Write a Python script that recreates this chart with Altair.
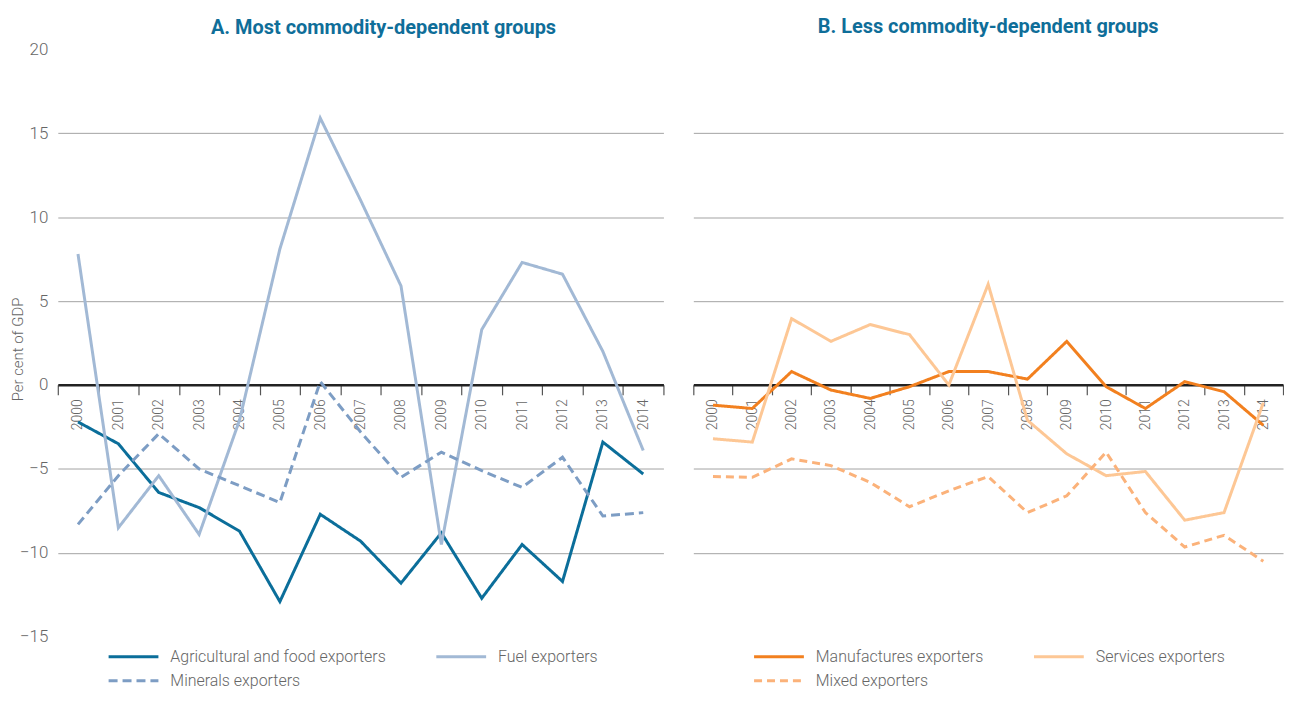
import altair as alt
import pandas as pd

years = [str(y) for y in range(2000, 2015)]

# Panel A
agri = [-2.2, -3.5, -6.4, -7.3, -8.7, -12.9, -7.7, -9.3, -11.8, -8.8, -12.7, -9.5, -11.7, -3.4, -5.3]
fuel = [7.8, -8.5, -5.4, -8.9, -2.1, 8.1, 15.9, 11.0, 5.9, -9.5, 3.3, 7.3, 6.6, 2.0, -3.9]
minerals = [-8.3, -5.4, -2.9, -5.0, -6.0, -7.0, 0.2, -2.8, -5.5, -4.0, -5.1, -6.1, -4.3, -7.8, -7.6]

# Panel B
manuf = [-1.2, -1.4, 0.8, -0.3, -0.8, -0.1, 0.8, 0.8, 0.35, 2.6, -0.1, -1.4, 0.2, -0.4, -2.4]
services = [-3.2, -3.4, 3.95, 2.6, 3.6, 3.0, 0.0, 6.0, -2.1, -4.1, -5.4, -5.15, -8.05, -7.6, -1.05]
mixed = [-5.45, -5.5, -4.4, -4.8, -5.8, -7.25, -6.3, -5.45, -7.6, -6.6, -4.0, -7.6, -9.65, -8.95, -10.5]

names_a = ["Agricultural and food exporters", "Fuel exporters", "Minerals exporters"]
names_b = ["Manufactures exporters", "Services exporters", "Mixed exporters"]
colors_a = ["#0b6e9a", "#a2b9d5", "#7d9dc4"]
colors_b = ["#f2801f", "#fdc795", "#fbb27a"]

y_ticks = [-15, -10, -5, 0, 5, 10, 15, 20]
grid_ticks = [-10, -5, 5, 10, 15]

FONT = "Roboto, sans-serif"
TITLE_COLOR = "#0f6e99"
TEXT_COLOR = "#666666"

W_A, W_B, H = 608, 592, 590
ZERO_OFFSET = -round(15 / 35 * H)

# legend symbol: a wide horizontal stroke (50 px) with a small nominal size
SYM_PATH = "M-4,0L4,0"
SYM_SIZE = 156.25


def long_df(names, series):
    rows = []
    for n, vals in zip(names, series):
        for y, v in zip(years, vals):
            rows.append({"year": y, "value": v, "series": n})
    return pd.DataFrame(rows)


df_a = long_df(names_a, [agri, fuel, minerals])
df_b = long_df(names_b, [manuf, services, mixed])


def panel(df, names, colors, dashes, widths, title, width, left):
    x = alt.X(
        "year:N",
        title=None,
        sort=years,
        scale=alt.Scale(type="band", domain=years, paddingInner=0, paddingOuter=0),
        axis=alt.Axis(
            offset=ZERO_OFFSET,
            labelAngle=-90,
            labelFontSize=14,
            labelColor=TEXT_COLOR,
            labelFont=FONT,
            labelFontWeight=300,
            labelPadding=4,
            tickBand="extent",
            tickSize=10,
            tickColor="#555555",
            tickWidth=1.2,
            domainColor="#222222",
            domainWidth=2.5,
            grid=False,
        ),
    )
    if left:
        yaxis = alt.Axis(
            values=y_ticks,
            title="Per cent of GDP",
            titleFont=FONT,
            titleFontSize=15,
            titleFontWeight=300,
            titleColor=TEXT_COLOR,
            titleX=-40,
            titleY=H / 2 + 6,
            titleBaseline="middle",
            titleAngle=270,
            labelFont=FONT,
            labelFontSize=17,
            labelFontWeight=300,
            labelColor=TEXT_COLOR,
            labelPadding=10,
            ticks=False,
            domain=False,
            grid=True,
            gridColor={
                "condition": {
                    "test": "datum.value == 20 || datum.value == -15 || datum.value == 0",
                    "value": "transparent",
                },
                "value": "#a3a3a3",
            },
            gridWidth=1,
        )
    else:
        yaxis = alt.Axis(
            values=grid_ticks,
            title=None,
            labels=False,
            ticks=False,
            domain=False,
            grid=True,
            gridColor="#a3a3a3",
            gridWidth=1,
        )
    y = alt.Y("value:Q", scale=alt.Scale(domain=[-15, 20], nice=False, zero=False), axis=yaxis)

    legend = alt.Legend(
        title=None,
        orient="none",
        direction="horizontal",
        legendX=(49 if left else 59) + 19,
        legendY=H + 12,
        columns=2,
        columnPadding=44,
        rowPadding=8,
        symbolType=SYM_PATH,
        symbolSize=SYM_SIZE,
        symbolStrokeWidth=4,
        labelFont=FONT,
        labelFontSize=16,
        labelFontWeight=300,
        labelColor=TEXT_COLOR,
        labelLimit=400,
        labelOffset=29,
    )

    chart = (
        alt.Chart(df)
        .mark_line(strokeJoin="miter")
        .encode(
            x=x,
            y=y,
            color=alt.Color("series:N", scale=alt.Scale(domain=names, range=colors), legend=legend, sort=names),
            strokeDash=alt.StrokeDash("series:N", scale=alt.Scale(domain=names, range=dashes), legend=legend, sort=names),
            strokeWidth=alt.StrokeWidth("series:N", scale=alt.Scale(domain=names, range=widths), legend=None),
        )
        .properties(
            width=width,
            height=H,
            title=alt.TitleParams(
                title,
                font=FONT,
                fontSize=20,
                fontWeight="bold",
                color=TITLE_COLOR,
                anchor="middle",
                frame="group",
                offset=2 if left else 12,
                dx=23 if left else 0,
            ),
        )
    )
    return chart


left = panel(
    df_a, names_a, colors_a, [[1, 0], [1, 0], [9, 5]], [3, 3, 4],
    "A. Most commodity-dependent groups", W_A, True,
)
right = panel(
    df_b, names_b, colors_b, [[1, 0], [1, 0], [8, 5]], [3, 3, 3],
    "B. Less commodity-dependent groups", W_B, False,
)

chart = (
    alt.hconcat(left, right, spacing=22)
    .resolve_scale(color="independent", strokeDash="independent", strokeWidth="independent", x="independent", y="independent")
    .configure(background="white", padding={"left": 3, "top": 8, "right": 0, "bottom": 0})
    .configure_view(strokeWidth=0, stroke="transparent")
)

chart.save("out.html", embed_options={"renderer": "svg", "actions": False})
